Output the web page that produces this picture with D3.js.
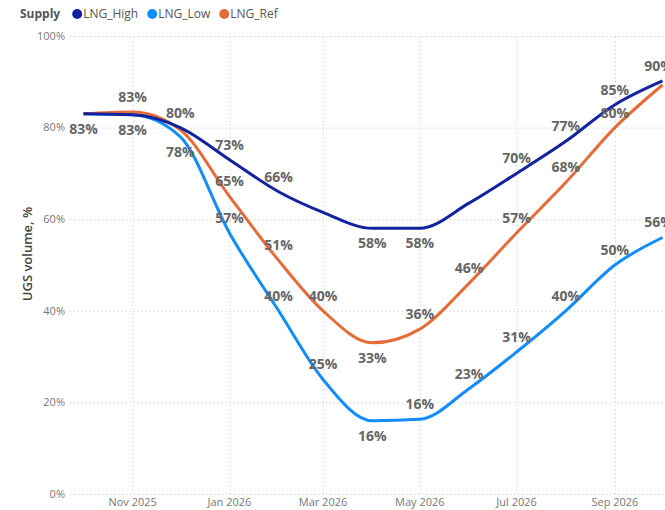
<!DOCTYPE html>
<html>
<head>
<meta charset="utf-8">
<script src="https://cdn.jsdelivr.net/npm/d3@7"></script>
<style>
  body { margin: 0; background: #fff; }
  svg { font-family: "Open Sans", "Segoe UI", sans-serif; }
  .grid line { stroke: #c8c8c8; stroke-dasharray: 1,3; }
  .grid .domain { display: none; }
  .tick-lbl { fill: #777; font-size: 11px; }
  .dlabel { fill: #666; font-size: 14px; font-weight: bold; }
</style>
</head>
<body>
<div id="chart"></div>
<script>
// months Oct 2025 .. Oct 2026
var months = ["2025-10", "2025-11", "2025-12", "2026-01", "2026-02", "2026-03", "2026-04",
              "2026-05", "2026-06", "2026-07", "2026-08", "2026-09", "2026-10"];

var lngHigh = [83, 82.8, 80, 73, 66, 61.5, 58, 58, 63.5, 70, 77, 85, 90.2];
var lngLow  = [83, 82.8, 78, 57, 40, 25, 16, 16.3, 23, 31, 40, 50, 56];
var lngRef  = [83, 83.4, 79.5, 65, 51, 40, 33, 36, 46, 57, 68, 80, 89.3];

// which data labels Power BI kept: "a" above, "b" below, "" hidden
var highLbl = ["b", "b", "a", "a", "a", "", "b", "b", "", "a", "a", "a", "a"];
var lowLbl  = ["", "", "b", "a", "a", "a", "b", "a", "a", "a", "a", "a", "a"];
var refLbl  = ["", "a", "", "a", "a", "a", "b", "a", "a", "a", "a", "a", ""];

var seriesNames = ["LNG_High", "LNG_Low", "LNG_Ref"];
var seriesColors = ["#12239E", "#118DFF", "#E66C37"];

var yTicks = [0, 20, 40, 60, 80, 100];
var xTicks = ["2025-11", "2026-01", "2026-03", "2026-05", "2026-07", "2026-09"];

var W = 665, H = 510;
var parse = d3.timeParse("%Y-%m");

var svg = d3.select("#chart").append("svg")
    .attr("width", W)
    .attr("height", H);

var x = d3.scaleTime()
    .domain([parse("2025-10"), parse("2026-10")])
    .range([83.5, 662.5]);

var y = d3.scaleLinear()
    .domain([0, 100])
    .range([494, 36]);

// horizontal grid
svg.append("g")
    .attr("class", "grid")
    .attr("transform", "translate(70,0)")
    .call(d3.axisRight(y).tickValues(yTicks).tickSize(W - 70).tickFormat(""));

// vertical grid
svg.append("g")
    .attr("class", "grid")
    .attr("transform", "translate(0,494)")
    .call(d3.axisTop(x).tickValues(xTicks.map(parse)).tickSize(458).tickFormat(""));

// y tick labels
svg.selectAll(".ylbl")
    .data(yTicks)
    .enter()
    .append("text")
    .attr("class", "tick-lbl")
    .attr("x", 65)
    .attr("y", function(d) { return y(d); })
    .attr("dy", "0.35em")
    .attr("text-anchor", "end")
    .text(function(d) { return d + "%"; });

// x tick labels
svg.selectAll(".xlbl")
    .data(xTicks)
    .enter()
    .append("text")
    .attr("class", "tick-lbl")
    .attr("x", function(d) { return x(parse(d)); })
    .attr("y", 506)
    .attr("text-anchor", "middle")
    .text(function(d) { return d3.timeFormat("%b %Y")(parse(d)); });

// y axis title
svg.append("text")
    .attr("transform", "translate(32,254) rotate(-90)")
    .attr("text-anchor", "middle")
    .style("font-size", "13px")
    .style("font-weight", "600")
    .style("fill", "#444")
    .text("UGS volume, %");

var line = d3.line()
    .x(function(d, i) { return x(parse(months[i])); })
    .y(function(d) { return y(d); })
    .curve(d3.curveMonotoneX);

var allSeries = [lngHigh, lngLow, lngRef];
var allLabels = [highLbl, lowLbl, refLbl];

// draw Low first, then Ref, then High on top
[1, 2, 0].forEach(function(s) {
    svg.append("path")
        .datum(allSeries[s])
        .attr("fill", "none")
        .attr("stroke", seriesColors[s])
        .attr("stroke-width", 3)
        .attr("stroke-linejoin", "round")
        .attr("d", line);
});

allSeries.forEach(function(vals, s) {
    vals.forEach(function(v, i) {
        var pos = allLabels[s][i];
        if (pos == "") return;
        svg.append("text")
            .attr("class", "dlabel")
            .attr("x", x(parse(months[i])) - (i == 12 ? 4 : 0))
            .attr("y", y(v) + (pos == "a" ? -15 : 15))
            .attr("dy", "0.35em")
            .attr("text-anchor", "middle")
            .text(Math.round(v) + "%");
    });
});

// legend
var lg = svg.append("g").attr("transform", "translate(20,14)");
var title = lg.append("text")
    .attr("y", 0)
    .attr("dy", "0.35em")
    .style("font-size", "12px")
    .style("font-weight", "bold")
    .style("fill", "#555")
    .text("Supply");
var lx = title.node().getComputedTextLength() + 12;
seriesNames.forEach(function(name, s) {
    lg.append("circle")
        .attr("cx", lx + 5)
        .attr("cy", 0)
        .attr("r", 5)
        .attr("fill", seriesColors[s]);
    var t = lg.append("text")
        .attr("x", lx + 11)
        .attr("dy", "0.35em")
        .style("font-size", "12px")
        .style("fill", "#555")
        .text(name);
    lx += 11 + t.node().getComputedTextLength() + 9;
});
</script>
</body>
</html>
